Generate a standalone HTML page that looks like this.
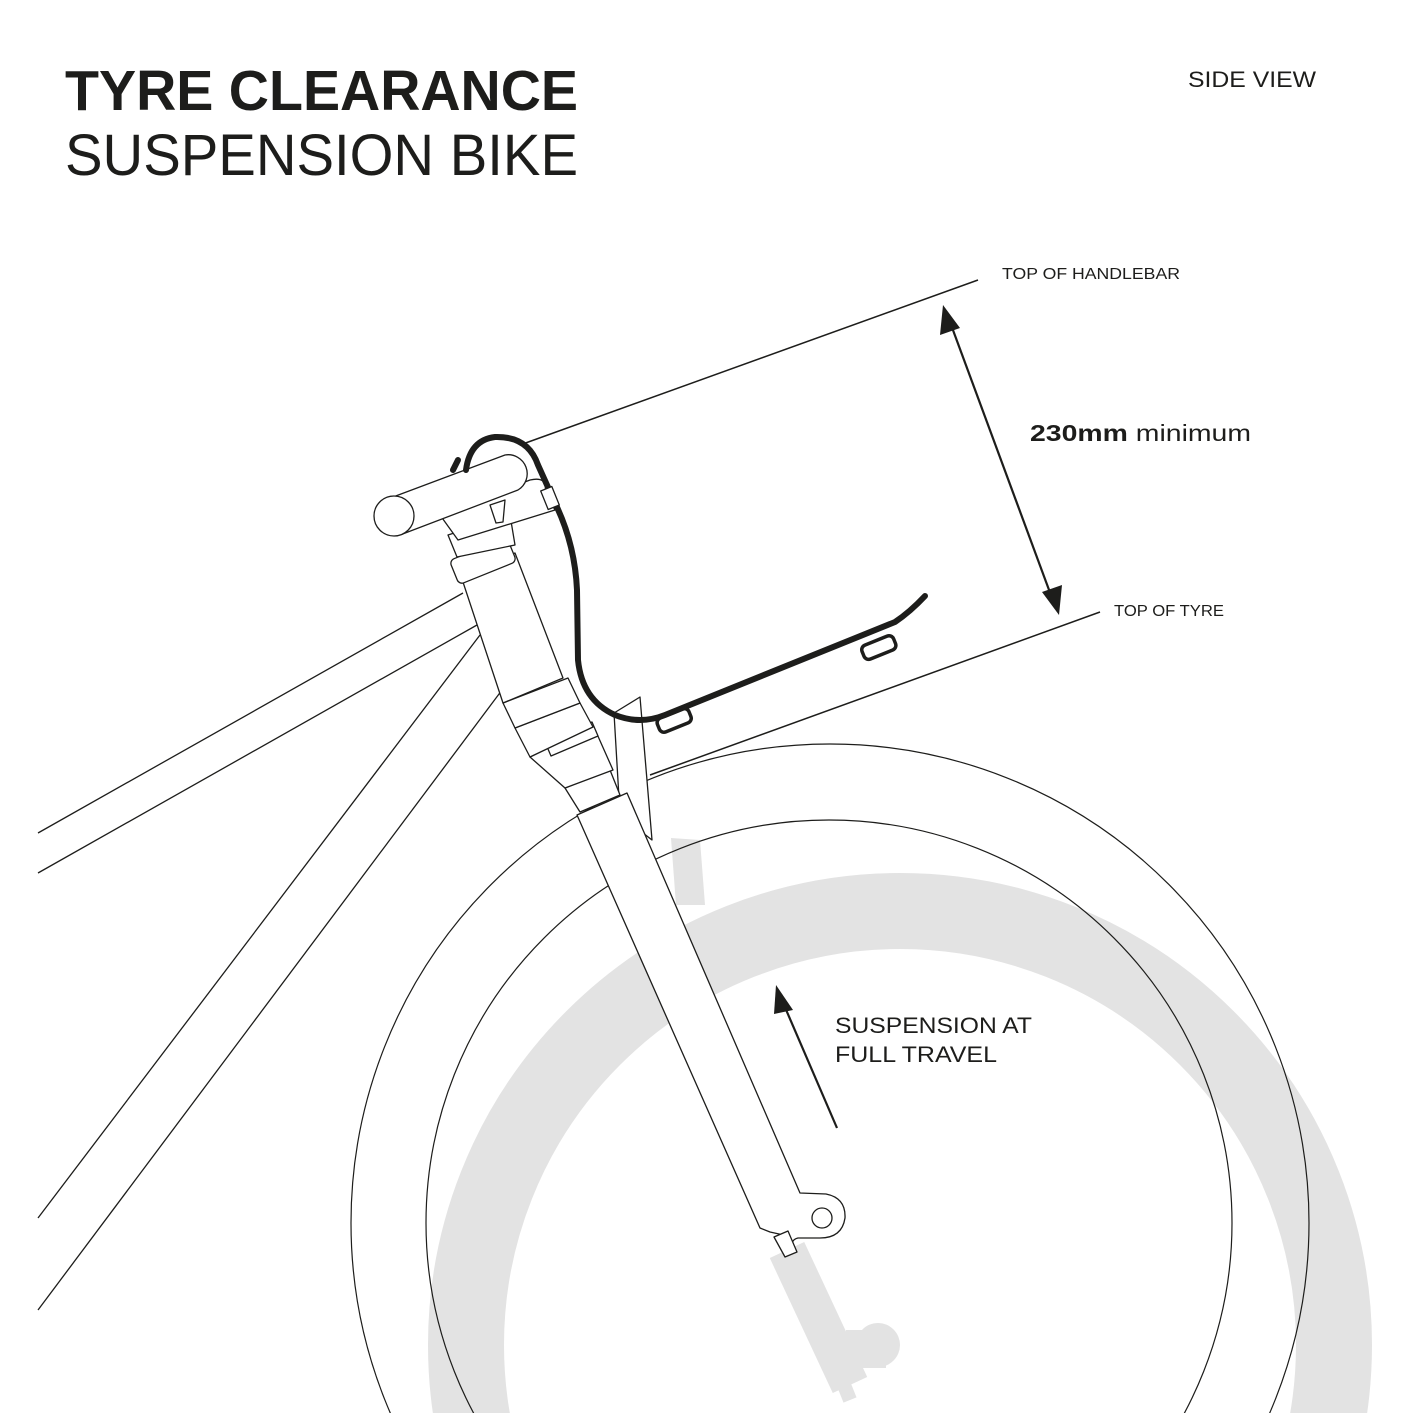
<!DOCTYPE html>
<html><head><meta charset="utf-8"><style>
html,body{margin:0;padding:0;background:#fff;overflow:hidden;width:1413px;height:1413px;}
svg{display:block;}
text{font-family:"Liberation Sans",sans-serif;fill:#1d1d1b;}
</style></head><body>
<svg width="1413" height="1413" viewBox="0 0 1413 1413" xmlns="http://www.w3.org/2000/svg">
<!-- title -->
<text x="65" y="110" font-size="57" font-weight="bold" textLength="513" lengthAdjust="spacingAndGlyphs">TYRE CLEARANCE</text>
<text x="65" y="175" font-size="58" textLength="513" lengthAdjust="spacingAndGlyphs">SUSPENSION BIKE</text>
<text x="1188" y="87" font-size="22" textLength="128" lengthAdjust="spacingAndGlyphs">SIDE VIEW</text>

<!-- gray ghost tyre -->
<circle cx="900" cy="1345" r="434" fill="none" stroke="#e3e3e3" stroke-width="76"/>
<polygon points="671,838 700,840 705,905 676,905" fill="#e3e3e3"/>
<line x1="787" y1="1250" x2="850" y2="1385" stroke="#e3e3e3" stroke-width="38"/>
<circle cx="878" cy="1345" r="22" fill="#e3e3e3"/>
<rect x="846" y="1330" width="40" height="38" fill="#e3e3e3"/>
<line x1="838" y1="1370" x2="850" y2="1400" stroke="#e3e3e3" stroke-width="14"/>

<!-- wheel -->
<circle cx="830" cy="1223" r="479" fill="none" stroke="#1d1d1b" stroke-width="1.2"/>
<circle cx="829" cy="1223" r="403" fill="none" stroke="#1d1d1b" stroke-width="1.2"/>

<g fill="#fff" stroke="#1d1d1b" stroke-width="1.3" stroke-linejoin="round">
<line x1="38" y1="833" x2="463" y2="593"/>
<line x1="38" y1="873" x2="477" y2="625"/>
<line x1="38" y1="1218" x2="480" y2="635"/>
<line x1="38" y1="1310" x2="502" y2="690"/>
<polygon points="614,713 640,697 652,840 620,815"/>
<path d="M577,815 L627,793 L800,1193 L826,1194 Q846,1198 845,1218 Q842,1238 820,1238 L798,1238 Q790,1240 793,1248 L788,1236 L770,1232 L760,1228 Z"/>
<circle cx="822" cy="1218" r="10"/>
<polygon points="774,1237 788,1231 797,1252 785,1257"/>
<polygon points="565,788 610,770 620,795 580,812"/>
<polygon points="530,757 593,725 613,770 565,788"/>
<polygon points="545,742 592,722 598,736 551,756"/>
<polygon points="515,728 580,703 593,727 530,757"/>
<polygon points="503,703 568,678 580,703 515,728"/>
<polygon points="460,573 515,553 563,678 503,703"/>
<rect x="452" y="548" width="62" height="26" rx="5" transform="rotate(-22 483 561)"/>
<polygon points="448,535 510,515 515,545 457,557"/>
<path d="M440,515 L530,480 Q548,476 545,492 L555,510 L458,540 Z"/>
<path d="M490,505 L505,500 L503,522 L496,523 Z"/>
<path d="M393,497 L505,455 A19,19 0 0 1 518,490 L400,535 Z"/>
<ellipse cx="394" cy="516" rx="20" ry="20"/>
</g>
<g fill="none" stroke="#1d1d1b" stroke-linecap="round" stroke-linejoin="round">
<path d="M466,470 Q470,440 495,437 Q528,436 538,465 L556,505 Q575,545 577,590 L578,660 Q582,700 615,715 Q640,725 665,715 L895,622 Q910,612 925,596" stroke-width="6"/>
<path d="M453,470 L458,460" stroke-width="6"/>
<rect x="657" y="713" width="34" height="15" rx="5" transform="rotate(-22 674 720)" stroke-width="3.5"/>
<rect x="862" y="640" width="34" height="15" rx="5" transform="rotate(-22 879 648)" stroke-width="3.5"/>
<rect x="544" y="488" width="12" height="20" transform="rotate(-22 550 498)" stroke-width="1.3" fill="#fff"/>
</g>

<line x1="520" y1="445" x2="978" y2="280" stroke="#1d1d1b" stroke-width="1.5"/>
<line x1="650" y1="775" x2="1100" y2="612" stroke="#1d1d1b" stroke-width="1.5"/>
<line x1="950" y1="322" x2="1052" y2="598" stroke="#1d1d1b" stroke-width="2.2"/>
<polygon points="943,305 960,328 940,335" fill="#1d1d1b"/>
<polygon points="1059,615 1042,592 1062,585" fill="#1d1d1b"/>
<text x="1002" y="279" font-size="15.5" textLength="178" lengthAdjust="spacingAndGlyphs">TOP OF HANDLEBAR</text>
<text x="1114" y="616" font-size="15.5" textLength="110" lengthAdjust="spacingAndGlyphs">TOP OF TYRE</text>
<text x="1030" y="441" font-size="23" textLength="221" lengthAdjust="spacingAndGlyphs"><tspan font-weight="bold">230mm</tspan> minimum</text>

<line x1="837" y1="1128" x2="784" y2="1005" stroke="#1d1d1b" stroke-width="2.2"/>
<polygon points="776,985 793,1010 774,1014" fill="#1d1d1b"/>
<text x="835" y="1033" font-size="22" textLength="197" lengthAdjust="spacingAndGlyphs">SUSPENSION AT</text>
<text x="835" y="1062" font-size="22" textLength="162" lengthAdjust="spacingAndGlyphs">FULL TRAVEL</text>
</svg>
</body></html>
